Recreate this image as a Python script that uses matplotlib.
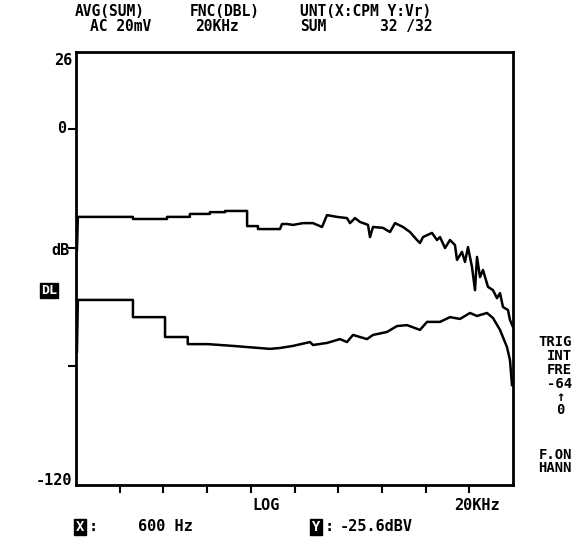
import matplotlib
matplotlib.use("Agg")
from matplotlib import pyplot as plt

# spectrum traces (Hz, dB)
upper_freq = [20.3, 20.6, 49.2, 49.2, 84.3, 84.3, 121, 121, 166, 166, 211, 211,
              299, 299, 355, 355, 503, 519, 562, 618, 723, 847, 977, 1057,
              1238, 1450, 1520, 1646, 1781, 2021, 2086, 2188, 2562, 2862, 3098,
              3514, 3926, 4386, 4598, 4822, 5558, 6016, 6308, 6828, 7386, 7992,
              8252, 8928, 9362, 9818, 10460, 10968, 11320, 11870, 12446, 13468,
              14576, 15530, 16286, 17076, 18478, 19070, 20000]
upper_db = [-40.8, -29.6, -29.6, -30.3, -30.3, -29.6, -29.6, -28.6, -28.6, -28.0,
            -28.0, -27.6, -27.6, -32.7, -32.7, -33.7, -33.7, -32.0, -32.0, -32.3,
            -31.7, -31.7, -33.0, -29.0, -29.6, -30.0, -31.7, -30.0, -31.3, -32.3,
            -36.4, -33.0, -33.3, -34.7, -31.7, -33.0, -34.7, -37.4, -38.4, -36.4,
            -35.0, -37.4, -36.4, -40.1, -37.4, -39.1, -44.1, -41.4, -44.8, -39.8,
            -46.5, -54.3, -43.1, -49.9, -47.5, -53.2, -54.3, -57.0, -55.3, -60.0,
            -61.0, -64.4, -66.7]

lower_freq = [20.3, 20.6, 49.2, 49.2, 81.7, 81.7, 117, 117, 161, 239, 429, 503,
              618, 808, 847, 1057, 1298, 1450, 1594, 1989, 2188, 2729, 3196, 3746,
              4598, 5137, 6308, 7386, 8654, 10134, 11320, 13256, 14576, 16286,
              18188, 19070, 19680]
lower_db = [-75.0, -57.6, -57.6, -63.4, -63.4, -70.1, -70.1, -72.5, -72.5, -73.1,
            -74.1, -73.8, -73.1, -71.8, -72.8, -72.1, -70.8, -71.8, -69.4, -70.8,
            -69.4, -68.4, -66.4, -66.1, -67.7, -65.0, -65.0, -63.4, -64.0, -62.0,
            -63.0, -62.0, -63.7, -67.7, -73.5, -77.9, -86.3]

W, H = 576, 538
fig = plt.figure(figsize=(W / 100, H / 100), dpi=100)
ax = fig.add_axes([76 / W, 1 - 485 / H, 437 / W, 433 / H])

ax.plot(upper_freq, upper_db, color='black', lw=1.8)
ax.plot(lower_freq, lower_db, color='black', lw=1.8)

ax.set_xscale('log')
ax.set_xlim(20, 20000)
ax.set_ylim(-120, 26)

# ten equal divisions across the log span
ax.set_xticks([20 * 10 ** (0.3 * k) for k in range(1, 10)])
ax.xaxis.set_minor_locator(matplotlib.ticker.NullLocator())
ax.set_xticklabels([])
ax.set_yticks([0, -40, -80])
ax.set_yticklabels([])
ax.tick_params(direction='out', length=6, width=1.5, color='black')
for s in ax.spines.values():
    s.set_linewidth(2)

mono = dict(family='DejaVu Sans Mono', weight='bold')

def put(x, y, s, ha='left', size=11, color='black', box=False):
    # y is the baseline in pixels from the top
    kw = {}
    if box:
        kw['bbox'] = dict(facecolor='black', edgecolor='black', pad=1)
    fig.text(x / W, 1 - y / H, s, ha=ha, va='baseline', fontsize=size,
             color=color, **mono, **kw)

# header
put(75, 16, 'AVG(SUM)', size=10.5)
put(190, 16, 'FNC(DBL)', size=10.5)
put(300, 16, 'UNT(X:CPM Y:Vr)', size=10.5)
put(90, 31, 'AC 20mV', size=10.5)
put(195, 31, '20KHz', size=10.5)
put(300, 31, 'SUM', size=10.5)
put(380, 31, '32 /32', size=10.5)

# y labels
put(72, 65, '26', ha='right')
put(66, 133, '0', ha='right')
put(70, 255, 'dB', ha='right')
put(49, 294, 'DL', ha='center', size=9.5, color='white', box=True)
put(72, 485, '-120', ha='right')

# right column
for y, s in [(346, 'TRIG'), (360, 'INT'), (374, 'FRE'), (388, '-64'),
             (459, 'F.ON'), (472, 'HANN')]:
    put(572, y, s, ha='right', size=10)
put(560, 401, '\u2191', ha='center', size=10)
put(560, 414, '0', ha='center', size=10)

# x labels
put(252, 510, 'LOG')
put(454, 510, '20KHz')

# cursor readout
put(80, 531, 'X', ha='center', size=10, color='white', box=True)
put(89, 531, ':')
put(138, 531, '600 Hz')
put(316, 531, 'Y', ha='center', size=10, color='white', box=True)
put(325, 531, ':')
put(340, 531, '-25.6dBV')

fig.savefig('out.png', dpi=100)
